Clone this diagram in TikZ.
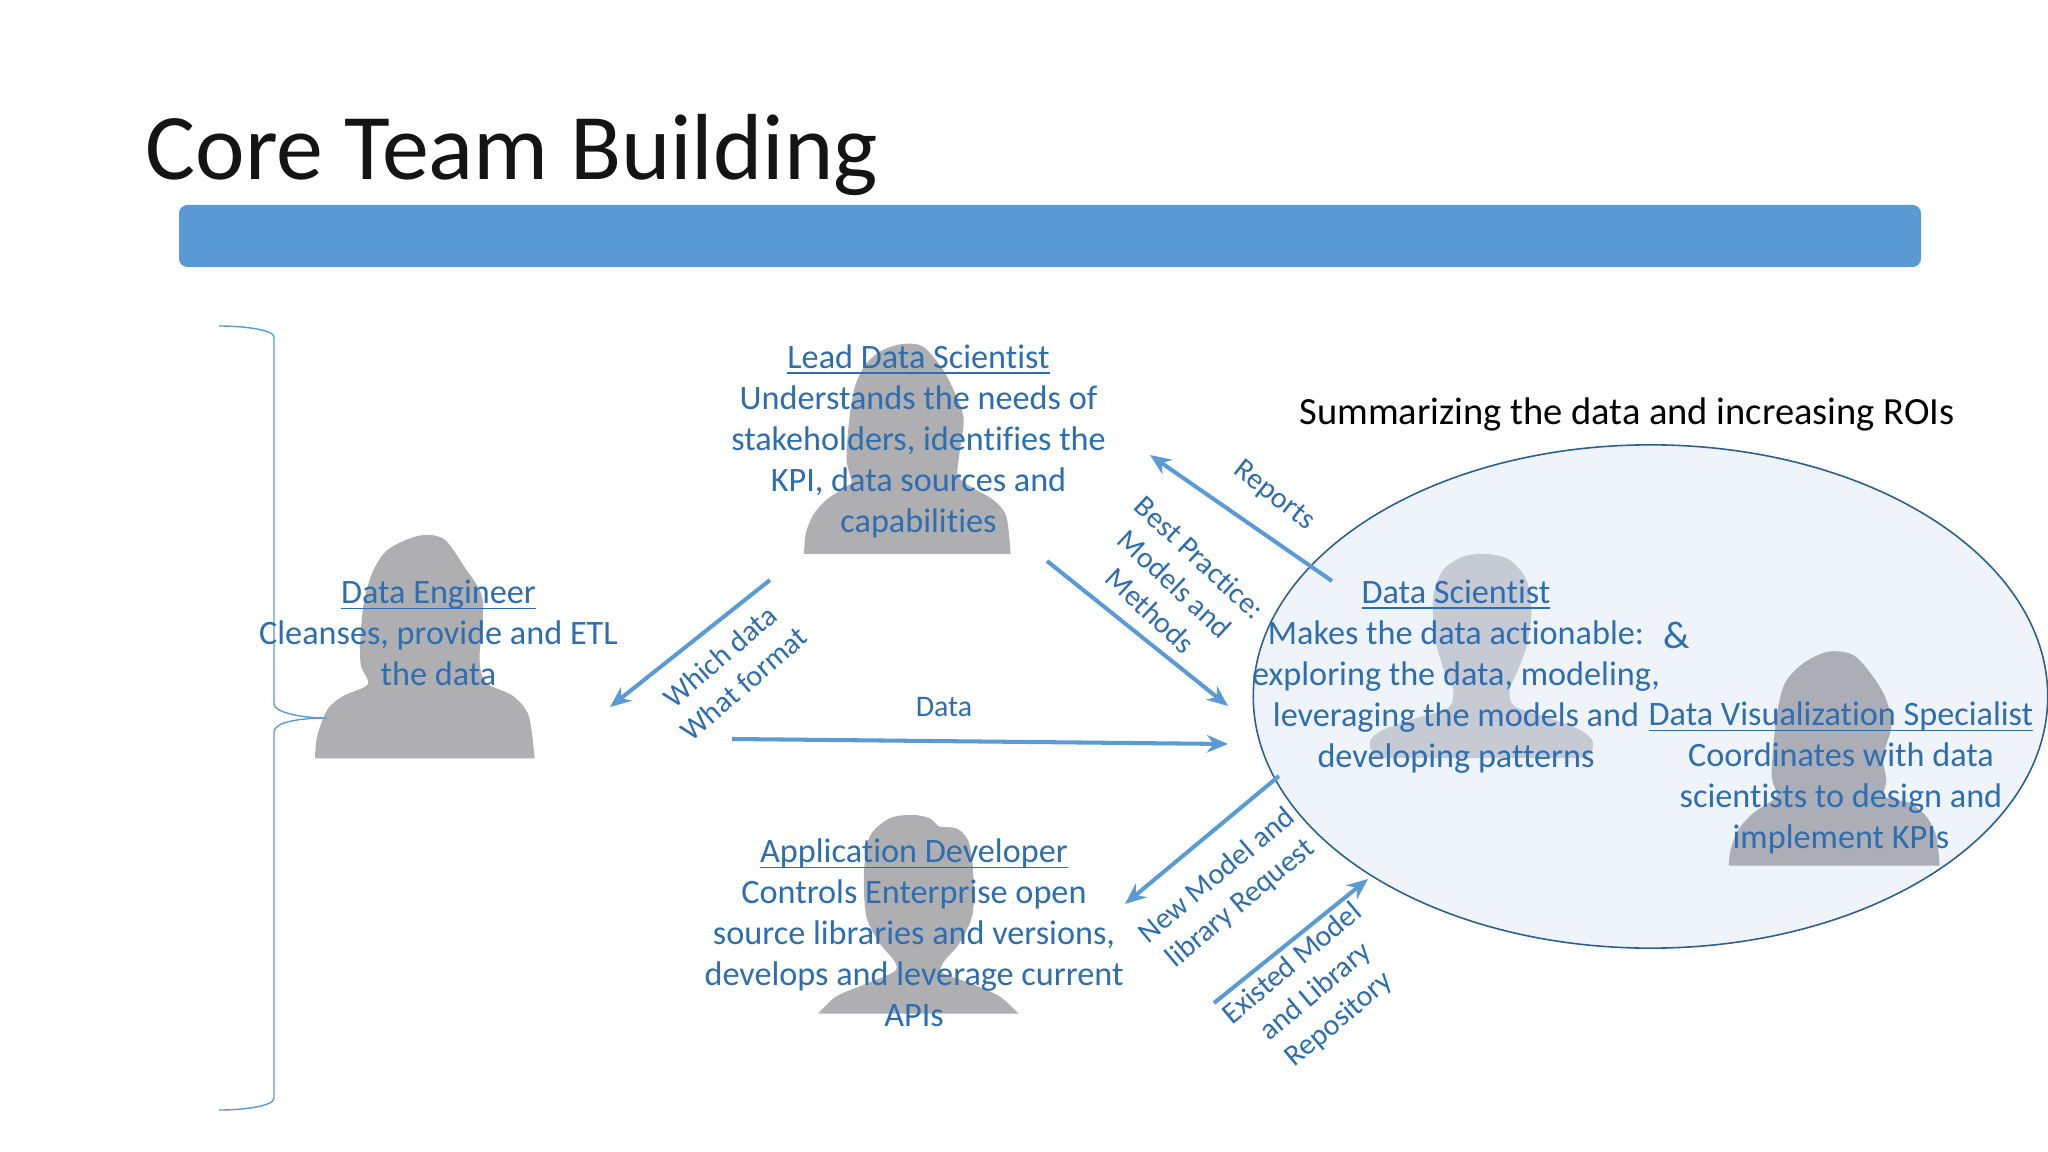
\documentclass[tikz,border=0pt]{standalone}
\usepackage{fontspec}
\setmainfont[Ligatures=NoCommon]{Carlito}
\usetikzlibrary{arrows.meta,shapes.geometric}
\definecolor{barblue}{HTML}{5B9BD5}
\definecolor{txtblue}{HTML}{2E6EB0}
\definecolor{ellfill}{HTML}{EFF4FB}
\definecolor{elledge}{HTML}{2C5F8E}
\definecolor{silh}{HTML}{AFAFB1}
\definecolor{silhb}{HTML}{ABAEB6}
\definecolor{silhc}{HTML}{C6CAD3}
\newcommand{\hdr}[1]{\setbox0\hbox{#1}\rlap{\rule[-1.55pt]{\wd0}{0.42pt}}\box0}
\tikzset{
  body/.style={inner sep=0pt,align=center,text=txtblue,font=\fontsize{9.73pt}{11.65pt}\selectfont},
  small/.style={inner sep=0pt,align=center,text=txtblue,font=\fontsize{8.5pt}{10.35pt}\selectfont},
  flow/.style={draw=barblue,line width=1.15pt,-{Stealth[length=6pt,width=5pt]}}
}
\begin{document}
\begin{tikzpicture}[x=0.01cm,y=-0.01cm]
\useasboundingbox (0,0) rectangle (2048,1152);
\fill[white] (0,0) rectangle (2048,1152);
% title and bar
\node[anchor=base west,inner sep=0pt,text=black!92,font=\fontsize{26.7pt}{32pt}\selectfont] (title) at (145,180) {Core Team Building};
\path[fill=barblue,rounded corners=2.4pt] (179,205) rectangle (1921,267);
% ellipse
\begin{scope}
\clip (0,0) rectangle (2048,1152);
\node[draw=elledge,fill=ellfill,ellipse,line width=0.45pt,minimum width=7.94cm,minimum height=5.03cm,inner sep=0pt] (team) at (1650.5,696.5) {};
\end{scope}
% silhouettes
\begin{scope}[shift={(200,300)},x=0.004464cm,y=-0.003333cm]
\fill[silh] plot[smooth,tension=0.5] coordinates {(257,1377)(262,1310)(285,1230)(320,1190)(375,1155)(360,1100)(358,1040)(365,920)(385,820)(420,750)(490,708)(545,718)(590,800)(632,900)(625,1080)(640,1150)(700,1190)(735,1250)(748,1377)} -- cycle;
\end{scope}
\begin{scope}[shift={(780,320)},x=0.003333cm,y=-0.003333cm]
\fill[silh] plot[smooth,tension=0.5] coordinates {(72,703)(78,640)(100,585)(140,540)(200,500)(215,485)(200,420)(207,310)(225,200)(260,130)(310,90)(370,72)(430,80)(490,150)(530,230)(552,300)(538,410)(535,470)(580,505)(640,540)(680,590)(693,703)} -- cycle;
\end{scope}
\begin{scope}[shift={(650,780)},x=0.003333cm,y=-0.003333cm]
\fill[silh] plot[smooth,tension=0.5] coordinates {(505,702)(560,650)(650,612)(735,575)(735,545)(690,490)(650,410)(643,280)(660,170)(720,115)(790,105)(840,115)(870,140)(920,145)(955,180)(970,260)(970,400)(930,490)(880,550)(880,580)(960,610)(1050,650)(1107,702)} -- cycle;
\end{scope}
\begin{scope}[shift={(1350,540)},x=0.003333cm,y=-0.003333cm]
\fill[silhc] plot[smooth,tension=0.5] coordinates {(75,655)(62,630)(62,600)(100,570)(200,535)(295,505)(310,450)(280,385)(255,290)(250,170)(280,90)(340,50)(410,42)(480,60)(530,120)(545,220)(530,320)(505,390)(480,450)(495,500)(600,535)(690,570)(727,600)(727,635)(705,655)} -- cycle;
\end{scope}
\begin{scope}[shift={(1710,640)},x=0.003333cm,y=-0.003333cm]
\fill[silhb] plot[smooth,tension=0.5] coordinates {(56,678)(62,630)(85,570)(130,520)(190,480)(200,460)(185,400)(200,230)(225,130)(280,70)(355,35)(430,45)(490,110)(530,180)(545,260)(520,350)(530,420)(525,470)(600,490)(650,530)(680,590)(690,678)} -- cycle;
\end{scope}
% brace
\coordinate (braceA) at (219,326);
\coordinate (braceB) at (274,337);
\coordinate (braceTip) at (327,718);
\coordinate (braceC) at (274,1098);
\coordinate (braceD) at (219,1110);
\draw[barblue,line width=0.4pt] (braceA) .. controls (245,326) and (274,330) .. (braceB)
  -- (274,704) .. controls (274,712) and (300,718) .. (braceTip)
  .. controls (300,718) and (274,722) .. (274,732) -- (braceC)
  .. controls (274,1106) and (245,1110) .. (braceD);
% text blocks
\node[body] (lead) at (918.5,441) {\hdr{Lead Data Scientist}\\Understands the needs of\\stakeholders, identifies the\\KPI, data sources and\\capabilities};
\node[body] (eng) at (438.5,633) {\hdr{Data Engineer}\\Cleanses, provide and ETL\\the data};
\node[body] (app) at (914,933) {\hdr{Application Developer}\\Controls Enterprise open\\source libraries and versions,\\develops and leverage current\\APIs};
\node[body] (sci) at (1456,676.5) {\hdr{Data Scientist}\\Makes the data actionable:\\exploring the data, modeling,\\leveraging the models and\\developing patterns};
\node[body] (vis) at (1841,778) {\hdr{Data Visualization Specialist}\\Coordinates with data\\scientists to design and\\implement KPIs};
\node[inner sep=0pt,text=txtblue,font=\fontsize{11pt}{13pt}\selectfont] (amp) at (1677,635) {\&};
\node[inner sep=0pt,font=\fontsize{10.94pt}{13pt}\selectfont] (sum) at (1627,414) {Summarizing the data and increasing ROIs};
% arrow ends
\coordinate (a1s) at (770,580); \coordinate (a1e) at (610,707);
\coordinate (a2s) at (732,739); \coordinate (a2e) at (1228,744);
\coordinate (a3s) at (1047,561); \coordinate (a3e) at (1228,706);
\coordinate (a4s) at (1332,581); \coordinate (a4e) at (1150,455);
\coordinate (a5s) at (1279,776); \coordinate (a5e) at (1125,904);
\coordinate (a6s) at (1214,1003); \coordinate (a6e) at (1368,879);
\draw[flow] (a1s) -- (a1e);
\draw[flow] (a2s) -- (a2e);
\draw[flow] (a3s) -- (a3e);
\draw[flow] (a4s) -- (a4e);
\draw[flow] (a5s) -- (a5e);
\draw[flow] (a6s) -- (a6e);
% arrow labels
\node[small,rotate=41] (l1) at (732,670) {Which data\\What format};
\node[small] (l2) at (944,707) {Data};
\node[small,rotate=-43] (l3) at (1175,584) {Best Practice:\\Models and\\Methods};
\node[small,rotate=-38] (l4) at (1274,496) {Reports};
\node[small,rotate=40] (l5) at (1229,890) {New Model and\\library Request};
\node[small,rotate=40] (l6) at (1316,992) {Existed Model\\and Library\\Repository};
\end{tikzpicture}
\end{document}
